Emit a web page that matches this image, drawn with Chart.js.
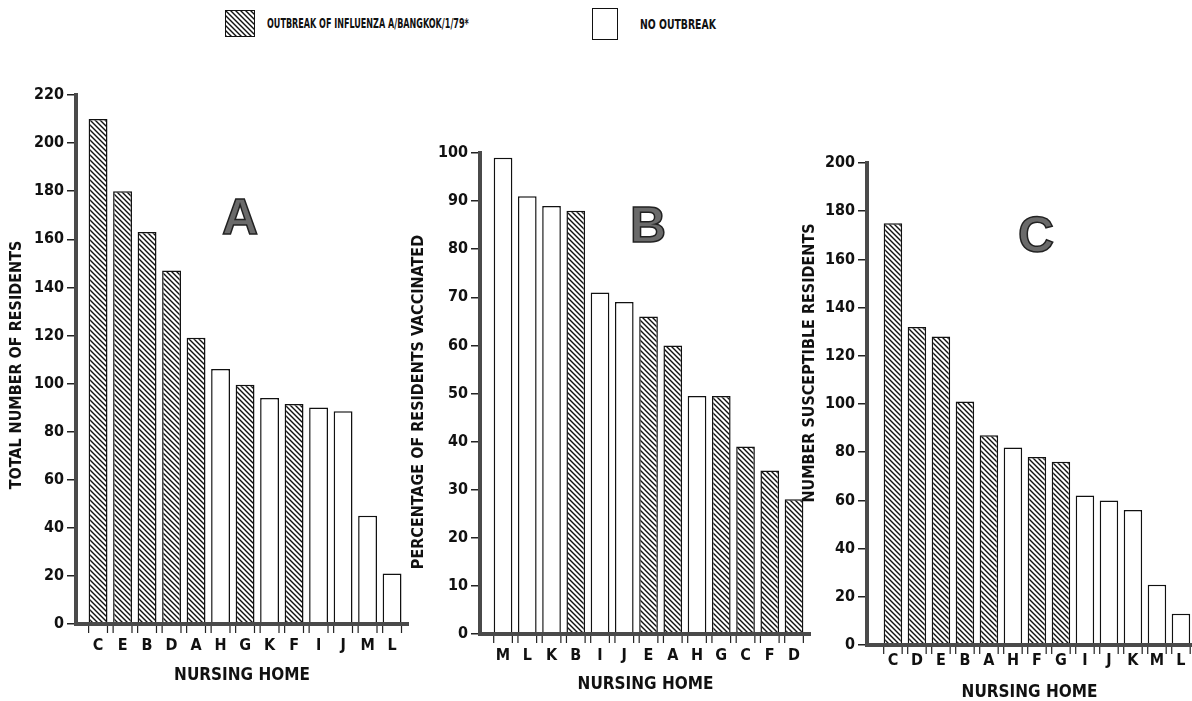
<!DOCTYPE html>
<html>
<head>
<meta charset="utf-8">
<script src="https://cdn.jsdelivr.net/npm/chart.js@4.4.1/dist/chart.umd.min.js"></script>
<style>
  body { margin: 0; width: 1192px; height: 701px; background: #fff; position: relative; overflow: hidden;
         font-family: "Liberation Sans Narrow", "DejaVu Sans Condensed", sans-serif; font-weight: bold; color: #111; }
  .panel { position: absolute; }
  .legend-box { position: absolute; border: 1.5px solid #111; box-sizing: border-box; }
  .legend-text { position: absolute; font-size: 14px; line-height: 14px; white-space: nowrap; transform-origin: left center; }
</style>
</head>
<body>
<div class="legend-box" id="hatchBox" style="left:225px;top:10px;width:30px;height:27px;"></div>
<div class="legend-text" style="left:267px;top:16px;transform:scaleX(0.64);">OUTBREAK OF INFLUENZA A/BANGKOK/1/79*</div>
<div class="legend-box" style="left:592px;top:8px;width:26px;height:32px;"></div>
<div class="legend-text" style="left:640px;top:17px;transform:scaleX(0.74);">NO OUTBREAK</div>

<div class="panel" style="left:0;top:60px;width:415px;height:641px;"><canvas id="chartA"></canvas></div>
<div class="panel" style="left:400px;top:100px;width:412px;height:601px;"><canvas id="chartB"></canvas></div>
<div class="panel" style="left:795px;top:100px;width:397px;height:601px;"><canvas id="chartC"></canvas></div>

<script>
// Homes that had an outbreak (hatched bars)
const outbreakHomes = ['A', 'B', 'C', 'D', 'E', 'F', 'G'];

// Panel A: total number of residents
const homesA = ['C', 'E', 'B', 'D', 'A', 'H', 'G', 'K', 'F', 'I', 'J', 'M', 'L'];
const residentsA = [210, 180, 163, 147, 119, 106, 99.5, 94, 91.5, 90, 88.5, 45, 21];

// Panel B: percentage of residents vaccinated
const homesB = ['M', 'L', 'K', 'B', 'I', 'J', 'E', 'A', 'H', 'G', 'C', 'F', 'D'];
const vaccinatedB = [99, 91, 89, 88, 71, 69, 66, 60, 49.5, 49.5, 39, 34, 28];

// Panel C: number of susceptible residents
const homesC = ['C', 'D', 'E', 'B', 'A', 'H', 'F', 'G', 'I', 'J', 'K', 'M', 'L'];
const susceptibleC = [175, 132, 128, 101, 87, 82, 78, 76, 62, 60, 56, 25, 13];

const FONT = '"Liberation Sans Narrow", "DejaVu Sans Condensed", sans-serif';

function makeHatch() {
  const s = 5;
  const c = document.createElement('canvas');
  c.width = c.height = s;
  const g = c.getContext('2d');
  g.fillStyle = '#fff';
  g.fillRect(0, 0, s, s);
  g.strokeStyle = '#111';
  g.lineWidth = 1.4;
  g.beginPath();
  g.moveTo(-1, -1); g.lineTo(s + 1, s + 1);
  g.moveTo(-1, s - 1); g.lineTo(1, s + 1);
  g.moveTo(s - 1, -1); g.lineTo(s + 1, 1);
  g.stroke();
  return c;
}

const hatchCanvas = makeHatch();
document.getElementById('hatchBox').style.background = 'url(' + hatchCanvas.toDataURL() + ')';

// draws bar-edge ticks, the rotated y title and the big panel letter
const decor = {
  id: 'decor',
  afterDraw(chart, args, opts) {
    const ctx = chart.ctx;
    const bottom = chart.chartArea.bottom;
    ctx.save();
    ctx.strokeStyle = '#222';
    ctx.lineWidth = 1.2;
    chart.getDatasetMeta(0).data.forEach(bar => {
      const p = bar.getProps(['x', 'width'], true);
      [p.x - p.width / 2, p.x + p.width / 2].forEach(x => {
        ctx.beginPath();
        ctx.moveTo(x, bottom + 2);
        ctx.lineTo(x, bottom + 9);
        ctx.stroke();
      });
    });

    ctx.fillStyle = '#111';
    ctx.font = 'bold 16px ' + FONT;
    ctx.textAlign = 'center';
    ctx.textBaseline = 'middle';
    ctx.translate(opts.titleX, opts.titleY);
    ctx.rotate(-Math.PI / 2);
    ctx.fillText(opts.title, 0, 0);
    ctx.restore();

    ctx.save();
    ctx.font = 'bold 50px "Liberation Sans", Arial, sans-serif';
    ctx.textAlign = 'center';
    ctx.textBaseline = 'middle';
    ctx.fillStyle = '#6a6a6a';
    ctx.strokeStyle = '#222';
    ctx.lineWidth = 1.5;
    ctx.fillText(opts.letter, opts.letterX, opts.letterY);
    ctx.strokeText(opts.letter, opts.letterX, opts.letterY);
    ctx.restore();
  }
};

function createPanel(id, homes, values, cfg) {
  const ctx = document.getElementById(id);
  const hatch = ctx.getContext('2d').createPattern(hatchCanvas, 'repeat');
  return new Chart(ctx, {
    type: 'bar',
    data: {
      datasets: [{
        data: homes.map((h, i) => ({ x: i, y: values[i] })),
        backgroundColor: homes.map(h => outbreakHomes.includes(h) ? hatch : '#fff'),
        borderColor: '#111',
        borderWidth: 1.5,
        categoryPercentage: 1,
        barPercentage: 0.77
      }]
    },
    options: {
      responsive: true,
      maintainAspectRatio: false,
      animation: false,
      layout: { padding: { top: cfg.padTop, right: cfg.padRight, left: 0, bottom: 0 } },
      plugins: {
        legend: { display: false },
        tooltip: { enabled: false },
        decor: cfg.decor
      },
      scales: {
        x: {
          type: 'linear',
          offset: false,
          min: cfg.xMin,
          max: cfg.xMax,
          afterBuildTicks: s => { s.ticks = homes.map((h, i) => ({ value: i })); },
          afterFit: s => { s.height = cfg.xHeight; },
          grid: { display: true, offset: false, drawOnChartArea: false, drawTicks: false },
          border: { display: true, color: '#4a4a4a', width: 4, z: 1 },
          ticks: {
            callback: v => homes[v],
            font: { family: FONT, size: 16, weight: 'bold' },
            color: '#111',
            padding: cfg.labelPad,
            autoSkip: false,
            maxRotation: 0
          },
          title: {
            display: true,
            text: 'NURSING HOME',
            color: '#111',
            font: { family: FONT, size: 17, weight: 'bold', lineHeight: 1 },
            padding: { top: 0, bottom: cfg.titlePad }
          }
        },
        y: {
          min: 0,
          max: cfg.yMax,
          afterFit: s => { s.width = cfg.yWidth; },
          grid: { drawOnChartArea: false, drawTicks: true, tickLength: 9, color: '#222', lineWidth: 1.5 },
          border: { display: true, color: '#4a4a4a', width: 4, z: 1 },
          ticks: {
            stepSize: cfg.yStep,
            font: { family: FONT, size: 16, weight: 'bold' },
            color: '#111',
            padding: 3
          }
        }
      }
    },
    plugins: [decor]
  });
}

createPanel('chartA', homesA, residentsA, {
  padTop: 35, padRight: 7, yWidth: 76, xHeight: 77, xMin: -0.9, xMax: 12.65,
  yMax: 220, yStep: 20, labelPad: 12, titlePad: 16.5,
  decor: { title: 'TOTAL NUMBER OF RESIDENTS', titleX: 17, titleY: 305, letter: 'A', letterX: 240, letterY: 160 }
});

createPanel('chartB', homesB, vaccinatedB, {
  padTop: 53, padRight: 0, yWidth: 80, xHeight: 67, xMin: -0.95, xMax: 12.7,
  yMax: 100, yStep: 10, labelPad: 12, titlePad: 7.5,
  decor: { title: 'PERCENTAGE OF RESIDENTS VACCINATED', titleX: 19, titleY: 302, letter: 'B', letterX: 248, letterY: 128 }
});

createPanel('chartC', homesC, susceptibleC, {
  padTop: 63, padRight: 0, yWidth: 72, xHeight: 56, xMin: -1.08, xMax: 12.46,
  yMax: 200, yStep: 20, labelPad: 6, titlePad: 0,
  decor: { title: 'NUMBER SUSCEPTIBLE RESIDENTS', titleX: 15, titleY: 263, letter: 'C', letterX: 241, letterY: 138 }
});
</script>
</body>
</html>
